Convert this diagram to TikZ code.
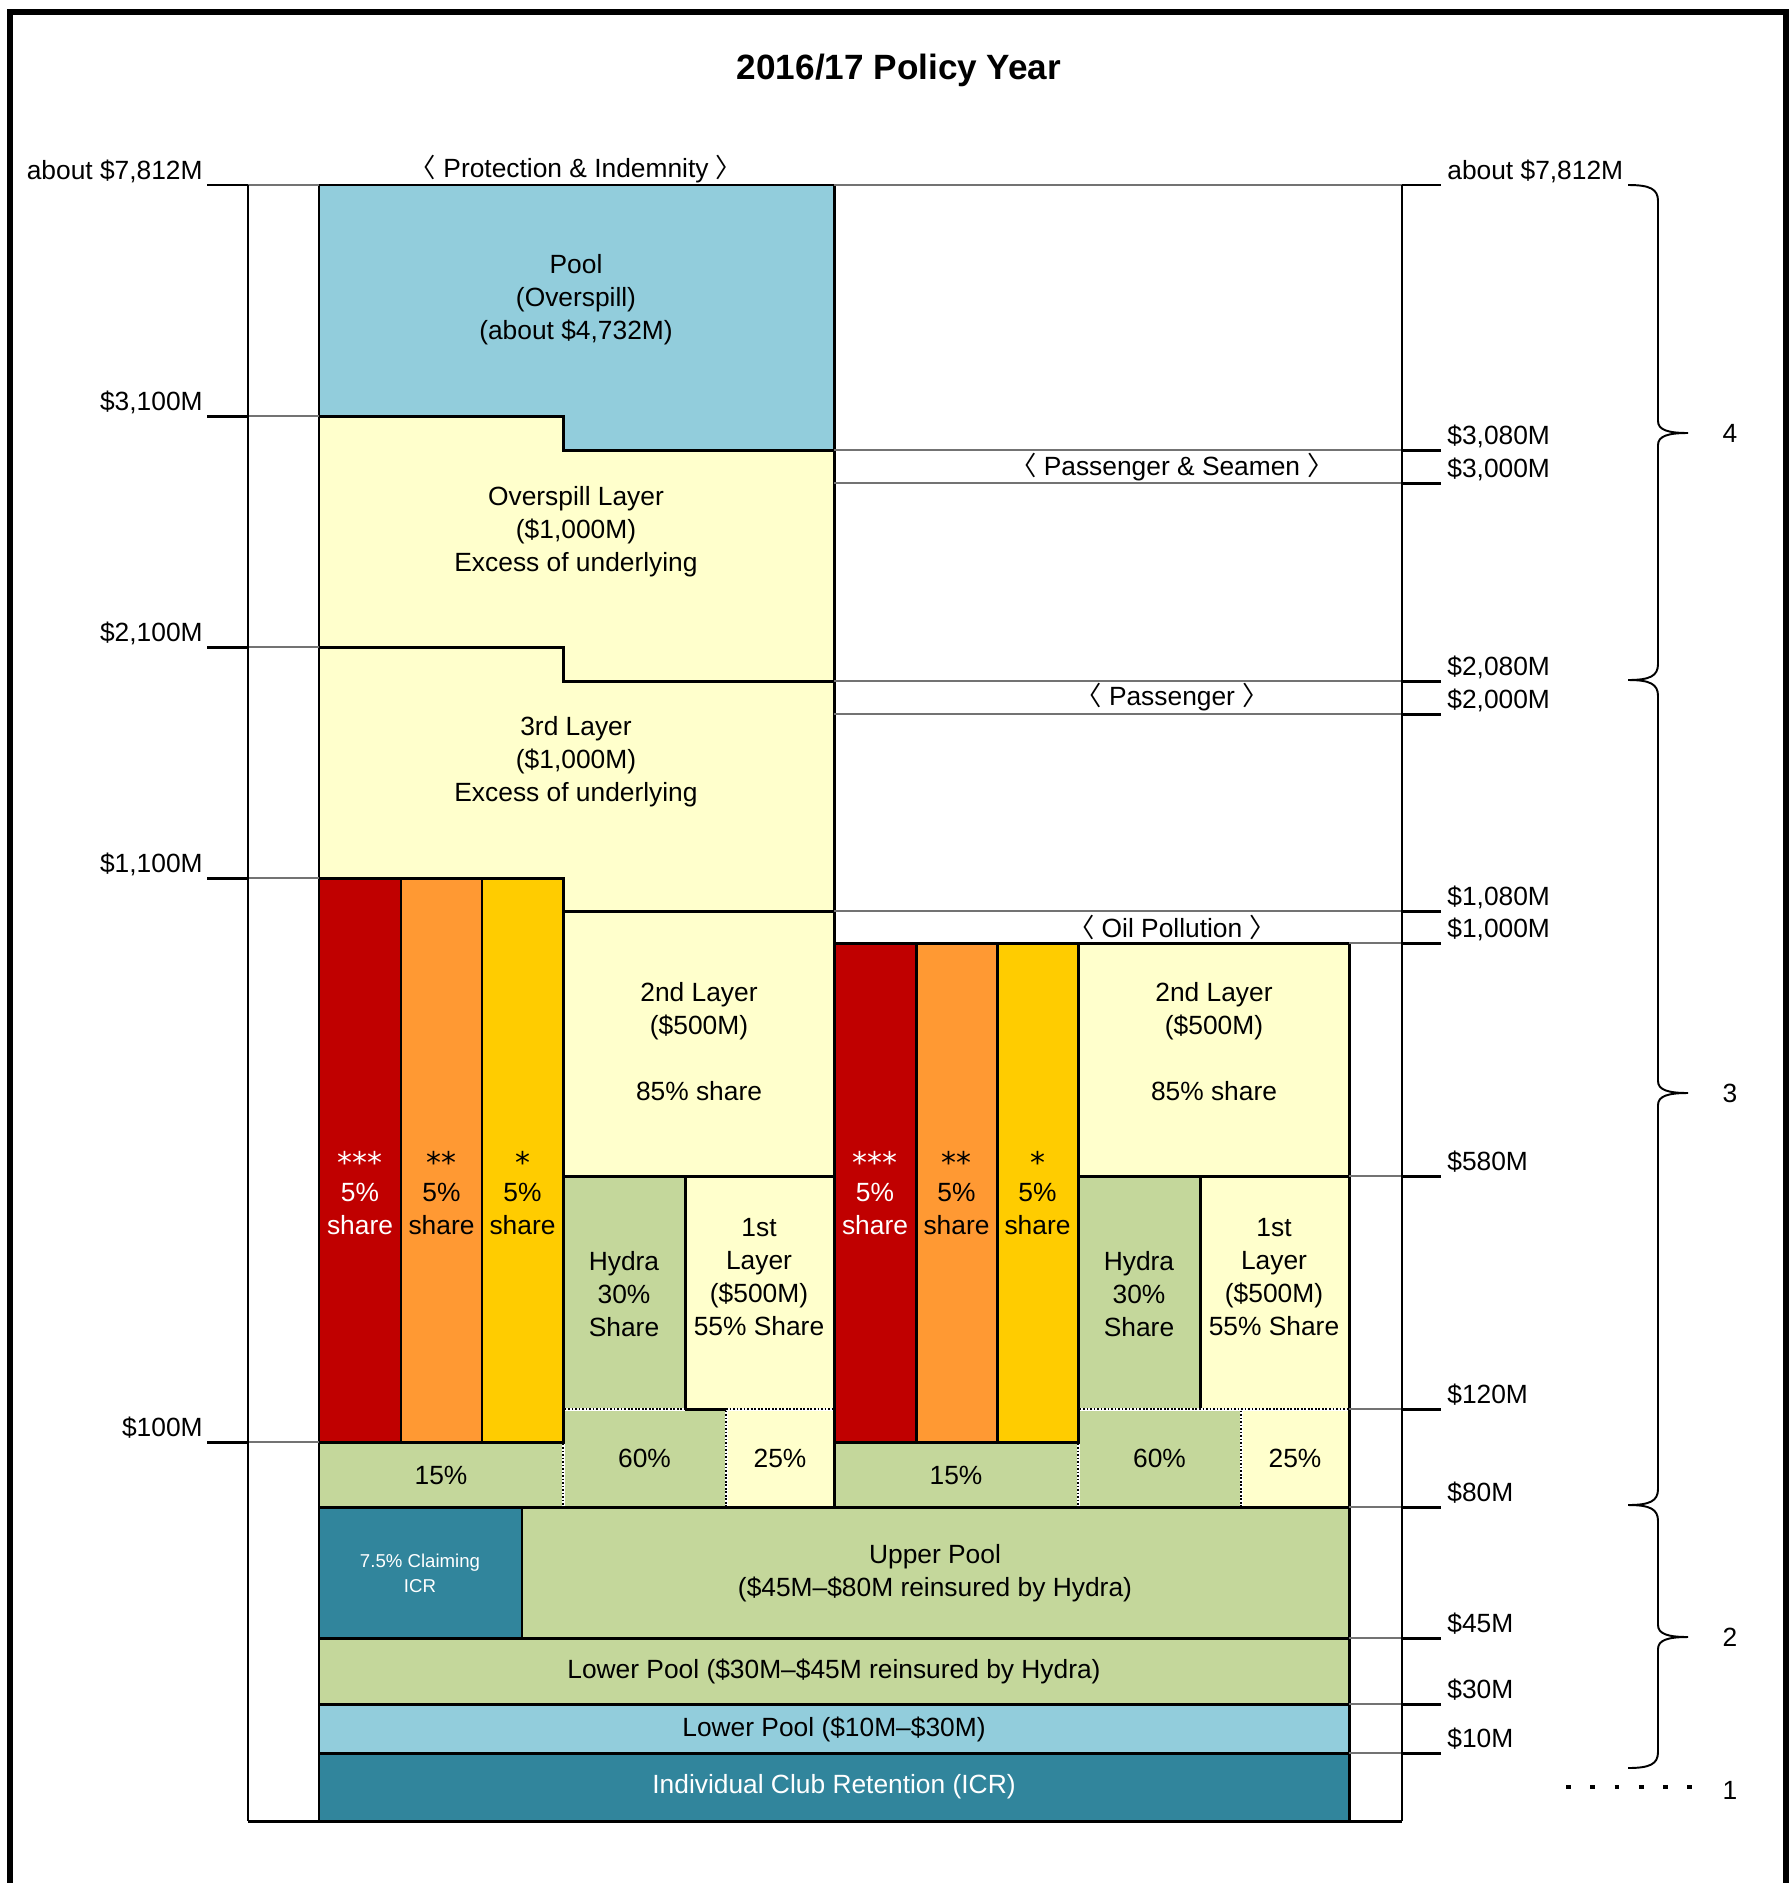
\documentclass[tikz,border=0pt]{standalone}
\usepackage{fontspec}
\setmainfont{Liberation Sans}
\newfontfamily\cjk{Noto Sans CJK JP}
\newfontfamily\starfont{DejaVu Sans}
\definecolor{poolblue}{HTML}{92CDDC}
\definecolor{layeryellow}{HTML}{FFFFCC}
\definecolor{hydragreen}{HTML}{C4D79B}
\definecolor{icrteal}{HTML}{31859C}
\definecolor{sharered}{HTML}{C00000}
\definecolor{shareorange}{HTML}{FF9933}
\definecolor{shareyellow}{HTML}{FFCC00}
\newcommand\bigstars[1]{\raisebox{-2.5pt}{\starfont\fontsize{17}{17}\selectfont #1}}
\tikzset{
  block/.style={draw=black, line width=1.7pt},
  dotborder/.style={draw=black, line width=1.2pt, dash pattern=on 1pt off 1pt},
  gridline/.style={draw=black!55, line width=0.8pt},
  tickmark/.style={draw=black, line width=1.7pt},
  axisline/.style={draw=black, line width=1.3pt},
  txt/.style={font=\fontsize{15}{18.8}\selectfont, align=center, inner sep=0pt},
  smalltxt/.style={font=\fontsize{10.6}{14.4}\selectfont, align=center, inner sep=0pt, text=white},
  titletxt/.style={font=\bfseries\fontsize{20}{24}\selectfont, inner sep=0pt},
  amountl/.style={txt, anchor=base east},
  amountr/.style={txt, anchor=base west}
}
\begin{document}
\begin{tikzpicture}[x=0.02cm, y=-0.02cm]
\useasboundingbox (0,0) rectangle (1791,1883);
\draw[line width=3.2pt, line join=miter] (10,1900) -- (10,12) -- (1786,12) -- (1786,1900);
\node[titletxt] (title) at (899,70) {2016/17 Policy Year};

% Protection & Indemnity column
\filldraw[block, fill=poolblue] (319,185) -- (834,185) -- (834,450) -- (563,450) -- (563,416) -- (319,416) -- cycle;
\filldraw[block, fill=layeryellow] (319,416) -- (563,416) -- (563,450) -- (834,450) -- (834,681) -- (563,681) -- (563,647) -- (319,647) -- cycle;
\filldraw[block, fill=layeryellow] (319,647) -- (563,647) -- (563,681) -- (834,681) -- (834,911) -- (563,911) -- (563,878) -- (319,878) -- cycle;
\node[txt] (pooltext) at (576,300) {Pool\\(Overspill)\\(about \$4,732M)};
\node[txt] (overspilltext) at (576,532) {Overspill Layer\\(\$1,000M)\\Excess of underlying};
\node[txt] (thirdtext) at (576,762) {3rd Layer\\(\$1,000M)\\Excess of underlying};

% shares, 1st and 2nd layers
\foreach \gx/\rtop/\ltop/\g in {0/878/911/a, 515/943/943/b} {
  \begin{scope}[shift={(\gx,0)}]
    \filldraw[block, fill=sharered] (319,\rtop) rectangle (401,1442);
    \filldraw[block, fill=shareorange] (401,\rtop) rectangle (482,1442);
    \filldraw[block, fill=shareyellow] (482,\rtop) rectangle (563,1442);
    \filldraw[block, fill=layeryellow] (563,\ltop) rectangle (834,1176);
    \filldraw[block, fill=hydragreen] (563,1176) rectangle (685,1409);
    \filldraw[block, fill=layeryellow] (685,1176) rectangle (834,1409);
    \filldraw[block, fill=hydragreen] (319,1442) rectangle (563,1507);
    \filldraw[block, fill=hydragreen] (563,1409) rectangle (726,1507);
    \filldraw[block, fill=layeryellow] (726,1409) rectangle (834,1507);
    \draw[white, line width=1.7pt] (563,1443.5) -- (563,1505.5) (726,1410.5) -- (726,1505.5) (564.5,1409) -- (832.5,1409);
    \draw[dotborder] (563,1443.5) -- (563,1505.5) (726,1410.5) -- (726,1505.5) (564.5,1409) -- (832.5,1409);
    \node[txt, text=white] (red\g) at (360,1193) {\bigstars{***}\\5\%\\share};
    \node[txt] (orange\g) at (441.5,1193) {\bigstars{**}\\5\%\\share};
    \node[txt] (yellow\g) at (522.5,1193) {\bigstars{*}\\5\%\\share};
    \node[txt] (second\g) at (699,1042) {2nd Layer\\(\$500M)\\[18.8pt]85\% share};
    \node[txt] (hydra\g) at (624,1294) {Hydra\\30\%\\Share};
    \node[txt] (first\g) at (759,1277) {1st\\Layer\\(\$500M)\\55\% Share};
    \node[txt] (fifteen\g) at (441,1475) {15\%};
    \node[txt] (sixty\g) at (644.5,1458) {60\%};
    \node[txt] (twentyfive\g) at (780,1458) {25\%};
  \end{scope}
}
\draw[block] (685,1409) -- (726,1409);

% pools and retention
\filldraw[block, fill=icrteal] (319,1507) rectangle (522,1638);
\filldraw[block, fill=hydragreen] (522,1507) rectangle (1349,1638);
\filldraw[block, fill=hydragreen] (319,1638) rectangle (1349,1704);
\filldraw[block, fill=poolblue] (319,1704) rectangle (1349,1753);
\filldraw[block, fill=icrteal] (319,1753) rectangle (1349,1821);
\node[smalltxt] (claiming) at (420,1573) {7.5\% Claiming\\ICR};
\node[txt] (upperpool) at (935,1573) {Upper Pool\\(\$45M--\$80M reinsured by Hydra)};
\node[txt] (lowerpoolb) at (834,1671) {Lower Pool (\$30M--\$45M reinsured by Hydra)};
\node[txt] (lowerpoola) at (834,1729) {Lower Pool (\$10M--\$30M)};
\node[txt, text=white] (icr) at (834,1787) {Individual Club Retention (ICR)};

% axes, grid and ticks
\draw[gridline] (248,185) -- (319,185) (834,185) -- (1402,185);
\foreach \y in {416,647,878,1442} \draw[gridline] (248,\y) -- (319,\y);
\foreach \y in {450,483,681,714,911} \draw[gridline] (834,\y) -- (1402,\y);
\foreach \y in {943,1176,1409,1507,1638,1704,1753} \draw[gridline] (1349,\y) -- (1402,\y);
\draw[axisline] (248,185) -- (248,1821);
\draw[axisline] (1402,185) -- (1402,1821);
\draw[block] (248,1821) -- (1402,1821);
\foreach \y/\t in {185/{about \$7,812M}, 416/{\$3,100M}, 647/{\$2,100M}, 878/{\$1,100M}, 1442/{\$100M}} {
  \draw[tickmark] (207,\y) -- (248,\y);
  \node[amountl] (lft\y) at (203,\y-6) {\t};
}
\foreach \y/\t in {185/{about \$7,812M}, 450/{\$3,080M}, 483/{\$3,000M}, 681/{\$2,080M}, 714/{\$2,000M}, 911/{\$1,080M}, 943/{\$1,000M}, 1176/{\$580M}, 1409/{\$120M}, 1507/{\$80M}, 1638/{\$45M}, 1704/{\$30M}, 1753/{\$10M}} {
  \draw[tickmark] (1402,\y) -- (1441,\y);
  \node[amountr] (rgt\y) at (1447,\y-6) {\t};
}

% cover bands
\node[txt] (pi) at (576,169) {{\cjk 〈} Protection \& Indemnity {\cjk 〉}};
\node[txt] (seamen) at (1172,467) {{\cjk 〈} Passenger \& Seamen {\cjk 〉}};
\node[txt] (passenger) at (1172,697) {{\cjk 〈} Passenger {\cjk 〉}};
\node[txt] (oil) at (1172,927) {{\cjk 〈} Oil Pollution {\cjk 〉}};

% tiers
\foreach \ya/\ym/\yb in {185/433/680, 680/1093/1505, 1505/1637/1768}
  \draw[line width=1.1pt] (1628,\ya) .. controls (1650,\ya) and (1658,\ya+4) .. (1658,\ya+16) -- (1658,\ym-12) .. controls (1658,\ym-3) and (1668,\ym) .. (1688,\ym) .. controls (1668,\ym) and (1658,\ym+3) .. (1658,\ym+12) -- (1658,\yb-16) .. controls (1658,\yb-4) and (1650,\yb) .. (1628,\yb);
\draw[line width=2.8pt, dash pattern=on 2.8pt off 11pt] (1566,1787) -- (1692,1787);
\node[txt] (tier4) at (1730,433) {4};
\node[txt] (tier3) at (1730,1093) {3};
\node[txt] (tier2) at (1730,1637) {2};
\node[txt] (tier1) at (1730,1790) {1};
\end{tikzpicture}
\end{document}
